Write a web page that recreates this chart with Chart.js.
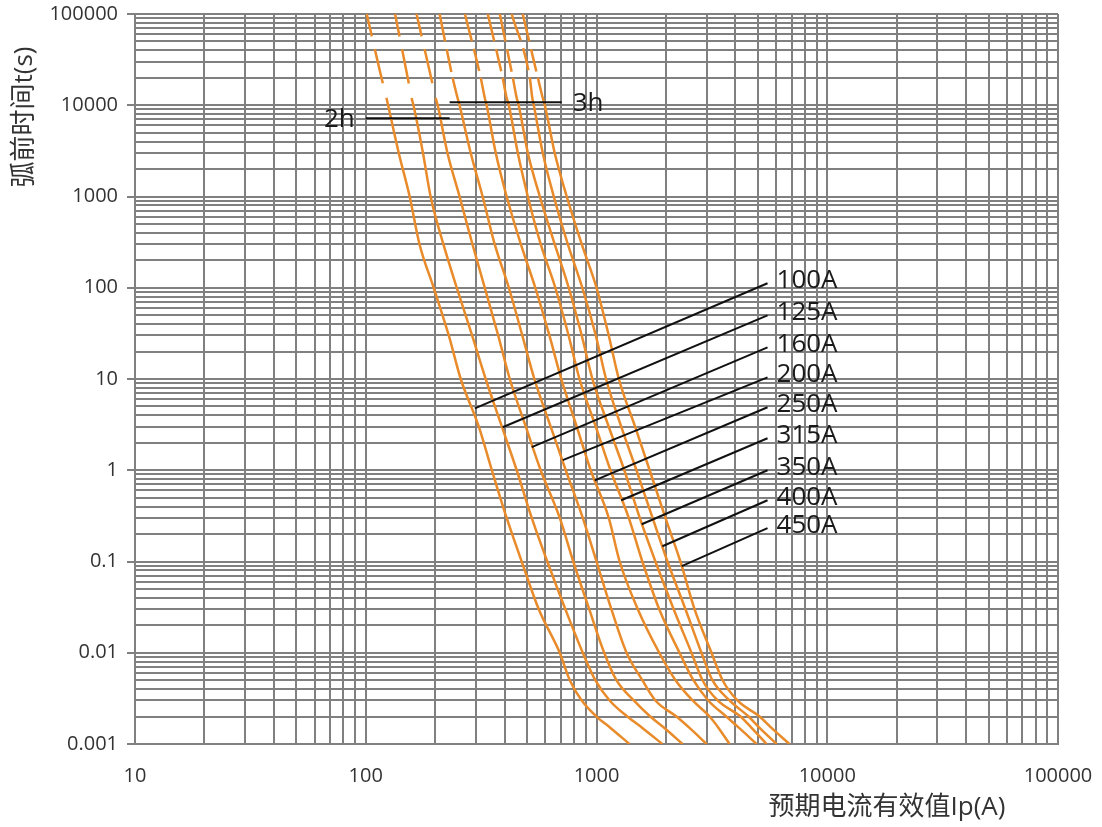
<!DOCTYPE html>
<html>
<head>
<meta charset="utf-8">
<title>弧前时间-电流特性曲线</title>
<script src="https://cdn.jsdelivr.net/npm/chart.js@4.4.1/dist/chart.umd.min.js"></script>
<style>
  html, body { margin: 0; padding: 0; background: #fff; }
  #chart-container { width: 1102px; height: 827px; }
</style>
</head>
<body>
<div id="chart-container"><canvas id="fuse-chart" width="1102" height="827"></canvas></div>
<script>
// Pre-arcing time levels (s), shared by every curve, top to bottom
const timeLevels = [100000, 20000, 12000, 10000, 3000, 1000, 300, 100, 30, 10, 3, 1,
    0.3, 0.1, 0.03, 0.01, 0.005, 0.003, 0.002, 0.0015, 0.001];

// Prospective current (A) of each curve at the time levels above
const ratings = ['100A', '125A', '160A', '200A', '250A', '315A', '350A', '400A', '450A'];
const current100A = [101, 117, 123, 125, 139, 155, 171, 197, 229, 258, 309, 352, 408, 474, 562, 693, 766, 863, 1000, 1150, 1390];
const current125A = [134, 152, 158, 161, 177, 191, 217, 248, 289, 331, 389, 451, 524, 612, 733, 872, 988, 1140, 1360, 1580, 1930];
const current160A = [166, 192, 201, 205, 226, 255, 290, 328, 375, 421, 494, 573, 693, 793, 930, 1080, 1220, 1450, 1710, 1970, 2360];
const current200A = [209, 238, 250, 255, 285, 321, 362, 417, 477, 538, 633, 736, 872, 1000, 1160, 1350, 1580, 1800, 2220, 2530, 3000];
const current250A = [269, 315, 328, 334, 366, 408, 470, 543, 625, 704, 821, 944, 1130, 1260, 1510, 1870, 2200, 2610, 3090, 3380, 3770];
const current315A = [338, 392, 408, 417, 456, 504, 573, 663, 757, 844, 993, 1150, 1380, 1580, 1870, 2290, 2630, 3050, 3650, 4150, 4940];
const current350A = [381, 434, 451, 460, 504, 568, 659, 758, 863, 960, 1130, 1320, 1540, 1800, 2160, 2580, 2880, 3350, 4210, 4700, 5460];
const current400A = [429, 514, 527, 535, 585, 653, 751, 868, 993, 1100, 1280, 1490, 1750, 2030, 2430, 2850, 3180, 3770, 4560, 5090, 6030];
const current450A = [479, 557, 585, 597, 659, 743, 863, 1000, 1130, 1250, 1470, 1700, 1990, 2310, 2660, 3150, 3520, 4080, 5090, 5730, 6860];
const curveCurrents = [current100A, current125A, current160A, current200A, current250A,
    current315A, current350A, current400A, current450A];

// curves are drawn dashed above this time
const dashedAbove = [12000, 12000, 12000, 20000, 20000, 20000, 20000, 20000, 20000];

// leader lines from each curve to its rating label
const leaderStartCurrent = [297, 392, 524, 714, 983, 1280, 1570, 1930, 2340];
const leaderStartTime = [4.77, 2.96, 1.79, 1.29, 0.776, 0.469, 0.256, 0.147, 0.0888];
const leaderEndCurrent = 5510;
const leaderEndTime = [112, 49.9, 22.2, 10.4, 4.9, 2.24, 1.0, 0.469, 0.232];

// conventional time marks
const hourLabels = ['2h', '3h'];
const hourTimes = [7200, 10800];
const hourFromCurrent = [100, 231];
const hourToCurrent = [231, 707];

const currentDecades = [10, 100, 1000, 10000, 100000];
const timeDecades = [0.001, 0.01, 0.1, 1, 10, 100, 1000, 10000, 100000];

const ORANGE = '#E98B2A';
const GRID = '#808080';
const TEXT = '#333333';
const LABEL = '#1a1a1a';
const FONT = '"Open Sans", "Noto Sans CJK SC", sans-serif';

// 1..9 per decade, so every minor grid line is drawn
function logTicks(decades) {
    const ticks = [];
    decades.forEach((d, i) => {
        if (i === decades.length - 1) {
            ticks.push({ value: d });
            return;
        }
        for (let m = 1; m <= 9; m++) {
            ticks.push({ value: +(d * m).toPrecision(6) });
        }
    });
    return ticks;
}

// keep the plot area where the layout padding puts it
function dropLabelOverhang(scale) {
    scale.paddingTop = 0;
    scale.paddingBottom = 0;
    scale.paddingLeft = 0;
    scale.paddingRight = 0;
}

const datasets = [];

curveCurrents.forEach((currents, i) => {
    const dash = i < 3 ? [23, 13, 35, 15] : [28, 8, 23, 7];
    datasets.push({
        label: ratings[i],
        data: currents.map((c, j) => ({ x: c, y: timeLevels[j] })),
        borderColor: ORANGE,
        borderWidth: 2.5,
        pointRadius: 0,
        fill: false,
        cubicInterpolationMode: 'monotone',
        order: 1,
        segment: {
            borderDash: ctx => ctx.p1.parsed.y >= dashedAbove[i] ? dash : undefined
        }
    });
});

ratings.forEach((r, i) => {
    datasets.push({
        label: r + ' leader',
        data: [
            { x: leaderStartCurrent[i], y: leaderStartTime[i] },
            { x: leaderEndCurrent, y: leaderEndTime[i] }
        ],
        borderColor: '#111111',
        borderWidth: 2,
        pointRadius: 0,
        order: 0
    });
});

hourLabels.forEach((h, i) => {
    datasets.push({
        label: h,
        data: [
            { x: hourFromCurrent[i], y: hourTimes[i] },
            { x: hourToCurrent[i], y: hourTimes[i] }
        ],
        borderColor: '#111111',
        borderWidth: 2,
        pointRadius: 0,
        order: 0
    });
});

// rating labels, hour labels and the two axis titles
const annotationText = {
    id: 'annotationText',
    afterDraw(chart) {
        const { ctx, chartArea } = chart;
        const x = chart.scales.x;
        const y = chart.scales.y;
        ctx.save();
        ctx.fillStyle = LABEL;
        ctx.font = '26px ' + FONT;
        ctx.textBaseline = 'middle';

        ctx.textAlign = 'left';
        ratings.forEach((r, i) => {
            ctx.fillText(r, x.getPixelForValue(leaderEndCurrent) + 9,
                y.getPixelForValue(leaderEndTime[i]) - 3);
        });

        ctx.textAlign = 'right';
        ctx.fillText(hourLabels[0], x.getPixelForValue(hourFromCurrent[0]) - 11,
            y.getPixelForValue(hourTimes[0]) + 1);
        ctx.textAlign = 'left';
        ctx.fillText(hourLabels[1], x.getPixelForValue(hourToCurrent[1]) + 11,
            y.getPixelForValue(hourTimes[1]) + 1);

        ctx.fillStyle = TEXT;
        ctx.font = '26px ' + FONT;
        ctx.textAlign = 'center';
        ctx.fillText('预期电流有效值Ip(A)', chartArea.right - 171, chartArea.bottom + 64);

        ctx.translate(25, chartArea.top + 103);
        ctx.rotate(-Math.PI / 2);
        ctx.fillText('弧前时间t(s)', 0, 0);
        ctx.restore();
    }
};

new Chart(document.getElementById('fuse-chart'), {
    type: 'line',
    data: { datasets },
    plugins: [annotationText],
    options: {
        responsive: false,
        animation: false,
        events: [],
        layout: { padding: { top: 14, right: 44, bottom: 0, left: 0 } },
        plugins: {
            legend: { display: false },
            tooltip: { enabled: false }
        },
        scales: {
            x: {
                type: 'logarithmic',
                min: 10,
                max: 100000,
                afterBuildTicks: scale => { scale.ticks = logTicks(currentDecades); },
                afterFit: scale => {
                    scale.height = 83;
                    dropLabelOverhang(scale);
                },
                grid: { color: GRID, lineWidth: 2, drawTicks: false },
                border: { color: GRID, width: 2 },
                ticks: {
                    autoSkip: false,
                    maxRotation: 0,
                    padding: 20,
                    color: TEXT,
                    font: { family: FONT, size: 20 },
                    callback: value => currentDecades.includes(value) ? String(value) : ''
                }
            },
            y: {
                type: 'logarithmic',
                min: 0.001,
                max: 100000,
                afterBuildTicks: scale => { scale.ticks = logTicks(timeDecades); },
                afterFit: scale => {
                    scale.width = 135;
                    dropLabelOverhang(scale);
                },
                grid: {
                    color: GRID,
                    lineWidth: 2,
                    tickLength: 8,
                    tickColor: ctx => ctx.tick && timeDecades.includes(ctx.tick.value) ? GRID : 'rgba(0,0,0,0)'
                },
                border: { color: GRID, width: 2 },
                ticks: {
                    autoSkip: false,
                    padding: 9,
                    color: TEXT,
                    font: { family: FONT, size: 20 },
                    callback: value => timeDecades.includes(value) ? String(value) : ''
                }
            }
        }
    }
});
</script>
</body>
</html>
